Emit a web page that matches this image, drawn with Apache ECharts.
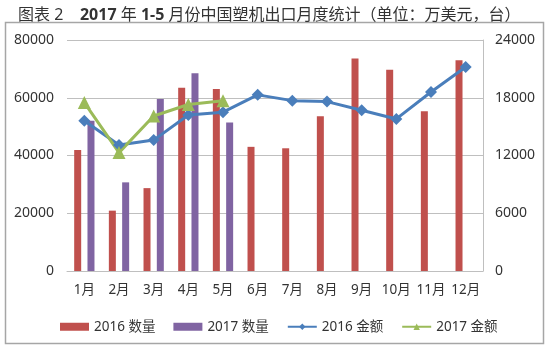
<!DOCTYPE html>
<html>
<head>
<meta charset="utf-8">
<script src="https://cdn.jsdelivr.net/npm/echarts@6/dist/echarts.min.js"></script>
<style>
  html, body { margin: 0; padding: 0; background: #fff; }
  #chart { width: 550px; height: 350px; }
</style>
</head>
<body>
<div id="chart"></div>
<script>
// Monthly plastics machinery exports: units (left axis) and value in 10k USD (right axis)
const months = ['1月', '2月', '3月', '4月', '5月', '6月', '7月', '8月', '9月', '10月', '11月', '12月'];
const qty2016 = [41900, 20900, 28700, 63500, 63000, 43000, 42500, 53600, 73600, 69700, 55300, 73000];
const qty2017 = [52000, 30700, 59600, 68500, 51400];
const amt2016 = [15600, 13100, 13600, 16200, 16500, 18300, 17700, 17600, 16700, 15800, 18600, 21200];
const amt2017 = [17500, 12300, 16100, 17300, 17700];

const leftTicks = { min: 0, max: 80000, interval: 20000 };
const rightTicks = { min: 0, max: 24000, interval: 6000 };

const FONT = '"Noto Sans", "Noto Sans CJK SC", sans-serif';
const plain = v => String(v);
const chart = echarts.init(document.getElementById('chart'));

chart.setOption({
  animation: false,
  textStyle: { fontFamily: FONT },
  title: {
    text: '图表 2    {b|2017} 年 {b|1-5} 月份中国塑机出口月度统计（单位：万美元，台）',
    left: 13,
    top: 2,
    textStyle: {
      fontSize: 16,
      fontWeight: 'normal',
      color: '#333',
      fontFamily: FONT,
      rich: { b: { fontSize: 16, fontWeight: 'bold', color: '#333', fontFamily: FONT } }
    }
  },
  graphic: [{
    type: 'rect',
    shape: { x: 5.5, y: 22.5, width: 538, height: 321 },
    style: { fill: 'none', stroke: '#a6a6a6', lineWidth: 1.5 },
    silent: true,
    z: -1
  }],
  grid: { left: 67, right: 67, top: 40, bottom: 79 },
  legend: {
    left: 55,
    top: 315,
    itemGap: 18,
    itemWidth: 29,
    itemHeight: 8,
    textStyle: { fontSize: 13.5, color: '#333', fontFamily: FONT },
    data: [
      { name: '2016 数量', icon: 'rect' },
      { name: '2017 数量', icon: 'rect' },
      { name: '2016 金额' },
      { name: '2017 金额' }
    ]
  },
  xAxis: {
    type: 'category',
    data: months,
    axisLine: { lineStyle: { color: '#bfbfbf', width: 1 } },
    axisTick: { show: false },
    axisLabel: { color: '#333', fontSize: 13.5, margin: 12, interval: 0 }
  },
  yAxis: [{
    type: 'value',
    min: leftTicks.min, max: leftTicks.max, interval: leftTicks.interval,
    axisLine: { show: false },
    axisTick: { show: false },
    axisLabel: { color: '#333', fontSize: 14, margin: 13, formatter: plain },
    splitLine: { lineStyle: { color: '#bfbfbf', width: 1 } }
  }, {
    type: 'value',
    min: rightTicks.min, max: rightTicks.max, interval: rightTicks.interval,
    position: 'right',
    axisLine: { show: true, lineStyle: { color: '#bfbfbf', width: 1 } },
    axisTick: { show: true, length: 4, inside: true, lineStyle: { color: '#bfbfbf' } },
    axisLabel: { color: '#333', fontSize: 14, margin: 12, formatter: plain },
    splitLine: { show: false }
  }],
  series: [{
    name: '2016 数量',
    type: 'bar',
    yAxisIndex: 0,
    data: qty2016,
    barWidth: 7,
    barGap: '90%',
    itemStyle: { color: '#c0504d' }
  }, {
    name: '2017 数量',
    type: 'bar',
    yAxisIndex: 0,
    data: qty2017,
    barWidth: 7,
    barGap: '90%',
    itemStyle: { color: '#8064a2' }
  }, {
    name: '2016 金额',
    type: 'line',
    yAxisIndex: 1,
    data: amt2016,
    symbol: 'diamond',
    symbolSize: 12,
    lineStyle: { color: '#4a7ebb', width: 3 },
    itemStyle: { color: '#4a7ebb' }
  }, {
    name: '2017 金额',
    type: 'line',
    yAxisIndex: 1,
    data: amt2017,
    symbol: 'triangle',
    symbolSize: 13,
    lineStyle: { color: '#9bbb59', width: 3 },
    itemStyle: { color: '#9bbb59' }
  }]
});
</script>
</body>
</html>
